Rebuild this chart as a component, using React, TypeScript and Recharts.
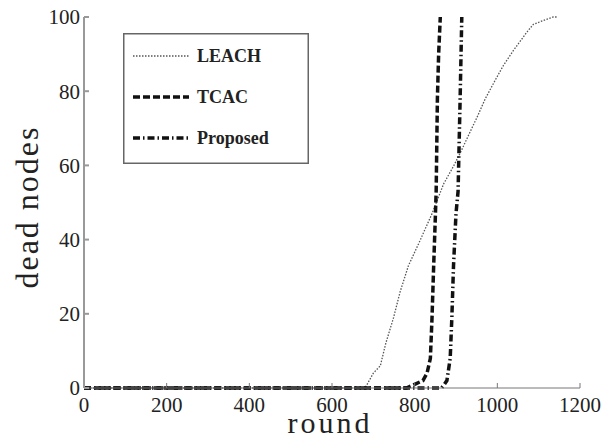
import { LineChart, Line, XAxis, YAxis, Legend } from 'recharts';

const xTicks = [0, 200, 400, 600, 800, 1000, 1200];
const yTicks = [0, 20, 40, 60, 80, 100];

const leachRounds = [0, 680, 690, 700, 717, 730, 749, 765, 785, 810, 842, 870, 895, 913, 934, 951, 971, 995, 1015, 1039, 1072, 1087, 1110, 1135, 1145];
const leachDead = [0, 0, 2, 4, 6, 12, 19, 26, 33, 39, 47, 55, 60, 64, 69, 73, 78, 83, 87, 91, 96, 98, 99, 100, 100];

const tcacRounds = [0, 780, 800, 820, 830, 838, 842, 846, 850, 852, 855, 858, 862];
const tcacDead = [0, 0, 1, 2, 4, 8, 19, 33, 46, 53, 78, 90, 100];

const proposedRounds = [0, 865, 872, 878, 886, 890, 894, 900, 905, 910, 914];
const proposedDead = [0, 0, 1, 2, 8, 19, 33, 47, 53, 78, 100];

const toPoints = (rounds: number[], dead: number[]) =>
  rounds.map((r, i) => ({ round: r, dead: dead[i] }));

const series = [
  { name: 'LEACH', data: toPoints(leachRounds, leachDead), stroke: '#555', width: 1.3, dash: '1.5 1.5' },
  { name: 'TCAC', data: toPoints(tcacRounds, tcacDead), stroke: '#111', width: 3.5, dash: '7 3' },
  { name: 'Proposed', data: toPoints(proposedRounds, proposedDead), stroke: '#111', width: 3.5, dash: '7 3 1.5 3' },
];

const serif = 'Liberation Serif, Times New Roman, serif';
const axisStroke = '#777';

// serif tick labels, drawn by hand so the font sticks
const XTick = ({ x, y, payload }: any) => (
  <text x={x} y={y} dy="0.71em" textAnchor="middle" fontFamily={serif} fontSize={21} fill="#222">
    {payload.value}
  </text>
);

const YTick = ({ x, y, payload }: any) => (
  <text x={x} y={y} dy="0.355em" textAnchor="end" fontFamily={serif} fontSize={21} fill="#222">
    {payload.value}
  </text>
);

function LegendBox() {
  return (
    <svg width={186} height={131} style={{ display: 'block' }}>
      <rect x={0.75} y={0.75} width={184.5} height={129.5} fill="#fff" stroke="#666" strokeWidth={1.5} />
      {series.map((s, i) => {
        const cy = 23 + i * 41;
        return (
          <g key={s.name}>
            <line x1={10} x2={66} y1={cy} y2={cy} stroke={s.stroke} strokeWidth={s.width} strokeDasharray={s.dash} />
            <text x={74} y={cy} dominantBaseline="central" fontFamily={serif} fontSize={18} fontWeight="bold" fill="#222">
              {s.name}
            </text>
          </g>
        );
      })}
    </svg>
  );
}

export default function App() {
  return (
    <div style={{ position: 'absolute', left: 0, top: 0, background: '#fff' }}>
      <LineChart width={603} height={440} margin={{ top: 17, right: 23, bottom: 0, left: 0 }}>
        <XAxis
          xAxisId="bottom"
          dataKey="round"
          type="number"
          domain={[0, 1200]}
          ticks={xTicks}
          allowDuplicatedCategory={false}
          height={52}
          stroke={axisStroke}
          tickSize={-5}
          tickMargin={14}
          tick={<XTick />}
          label={{
            content: () => (
              <text x={330} y={433} textAnchor="middle" fontFamily={serif} fontSize={30} letterSpacing={3} fill="#222">
                round
              </text>
            ),
          }}
        />
        <XAxis
          xAxisId="top"
          orientation="top"
          dataKey="round"
          type="number"
          domain={[0, 1200]}
          ticks={xTicks}
          height={0}
          stroke={axisStroke}
          tickSize={-5}
          tickFormatter={() => ''}
        />
        <YAxis
          yAxisId="left"
          domain={[0, 100]}
          ticks={yTicks}
          width={84}
          stroke="#999"
          strokeWidth={2}
          tickSize={-5}
          tickMargin={9}
          tick={<YTick />}
          label={{
            content: () => (
              <text
                x={27}
                y={207}
                textAnchor="middle"
                dominantBaseline="central"
                transform="rotate(-90, 27, 207)"
                fontFamily={serif}
                fontSize={32}
                letterSpacing={2}
                fill="#222"
              >
                dead nodes
              </text>
            ),
          }}
        />
        <YAxis
          yAxisId="right"
          orientation="right"
          domain={[0, 100]}
          ticks={yTicks}
          width={0}
          stroke={axisStroke}
          tickSize={-5}
          tickFormatter={() => ''}
        />
        <Legend
          layout="vertical"
          align="center"
          verticalAlign="middle"
          wrapperStyle={{ left: 123, top: 33, width: 186, height: 131 }}
          content={() => <LegendBox />}
        />
        {series.map(s => (
          <Line
            key={s.name}
            xAxisId="bottom"
            yAxisId="left"
            data={s.data}
            dataKey="dead"
            name={s.name}
            type="linear"
            stroke={s.stroke}
            strokeWidth={s.width}
            strokeDasharray={s.dash}
            dot={false}
            activeDot={false}
            isAnimationActive={false}
          />
        ))}
      </LineChart>
    </div>
  );
}
